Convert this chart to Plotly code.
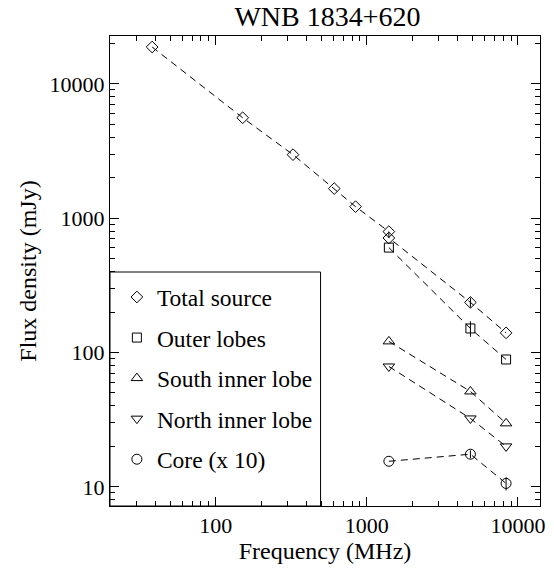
import plotly.graph_objects as go
import numpy as np

# ---- data ----
total_freq = [38, 151, 325, 609, 843, 1400, 1400, 4850, 8350]
total_flux = [18800, 5590, 2970, 1660, 1218, 794, 712, 236, 140]
total_err = [0, 0, 0, 0, 0, 0, 0, 20, 0]

outer_freq = [1400, 4850, 8350]
outer_flux = [604, 151, 88.7]
outer_err = [0, 20, 0]

south_freq = [1400, 4850, 8350]
south_flux = [121, 51.3, 29.7]
south_err = [0, 0, 0]

north_freq = [1400, 4850, 8350]
north_flux = [78.7, 32.3, 20.0]
north_err = [0, 0, 0]

core_freq = [1400, 4850, 8350]
core_flux = [15.5, 17.5, 10.6]
core_err = [0, 1.2, 1.2]

series_names = ["Total source", "Outer lobes", "South inner lobe", "North inner lobe", "Core (x 10)"]
x_tickvals = [100, 1000, 10000]
y_tickvals = [10, 100, 1000, 10000]

series = [
    (series_names[0], total_freq, total_flux, total_err, "diamond-open", 9),
    (series_names[1], outer_freq, outer_flux, outer_err, "square-open", 9),
    (series_names[2], south_freq, south_flux, south_err, "triangle-up-open", 10),
    (series_names[3], north_freq, north_flux, north_err, "triangle-down-open", 10),
    (series_names[4], core_freq, core_flux, core_err, "circle-open", 10),
]

FONT = "Liberation Serif, Times New Roman, serif"

fig = go.Figure()
for name, fx, fy, fe, sym, sz in series:
    fig.add_trace(go.Scatter(
        x=fx, y=fy, mode="lines", showlegend=False, hoverinfo="skip",
        line=dict(color="black", width=1, dash="7px,5px"),
    ))
for name, fx, fy, fe, sym, sz in series:
    fig.add_trace(go.Scatter(
        x=fx, y=fy, mode="markers", name=name, legendgroup=name,
        marker=dict(symbol=sym, size=sz, color="black", line=dict(width=1, color="black")),
        error_y=dict(type="data", array=fe, visible=True, width=0, thickness=1, color="black"),
    ))

axis_common = dict(
    type="log", showgrid=False, zeroline=False, showline=True, linecolor="black",
    linewidth=1, mirror="ticks", ticks="inside", ticklen=9, tickwidth=1, tickcolor="black",
    tickfont=dict(family=FONT, size=22, color="black"),
    minor=dict(ticks="inside", ticklen=5, tickwidth=1, tickcolor="black", dtick="D1", showgrid=False),
)

fig.update_layout(
    width=554, height=568,
    margin=dict(l=110, r=9, t=36, b=62),
    paper_bgcolor="white", plot_bgcolor="white",
    title=dict(text="WNB 1834+620", x=(110 + 545) / 2 / 554, xanchor="center", y=0.972, yanchor="middle",
               font=dict(family=FONT, size=28, color="black")),
    xaxis=dict(axis_common, range=[np.log10(20), np.log10(14000)], tickvals=x_tickvals,
               ticktext=[str(v) for v in x_tickvals],
               title=dict(text="Frequency (MHz)", font=dict(family=FONT, size=24, color="black"), standoff=4)),
    yaxis=dict(axis_common, range=[np.log10(7.2), np.log10(22700)], tickvals=y_tickvals,
               ticktext=[str(v) for v in y_tickvals],
               title=dict(text="Flux density (mJy)", font=dict(family=FONT, size=24, color="black"), standoff=6)),
    legend=dict(x=0.016, y=0.491, xanchor="left", yanchor="top", bgcolor="rgba(0,0,0,0)",
                borderwidth=0, font=dict(family=FONT, size=23.5, color="black"),
                tracegroupgap=7, itemwidth=30),
    shapes=[dict(type="rect", xref="paper", yref="paper", x0=0, x1=(323 - 110) / 435,
                 y0=0, y1=(506 - 272) / 470, line=dict(color="black", width=1))],
)

fig.write_html("out.html")
